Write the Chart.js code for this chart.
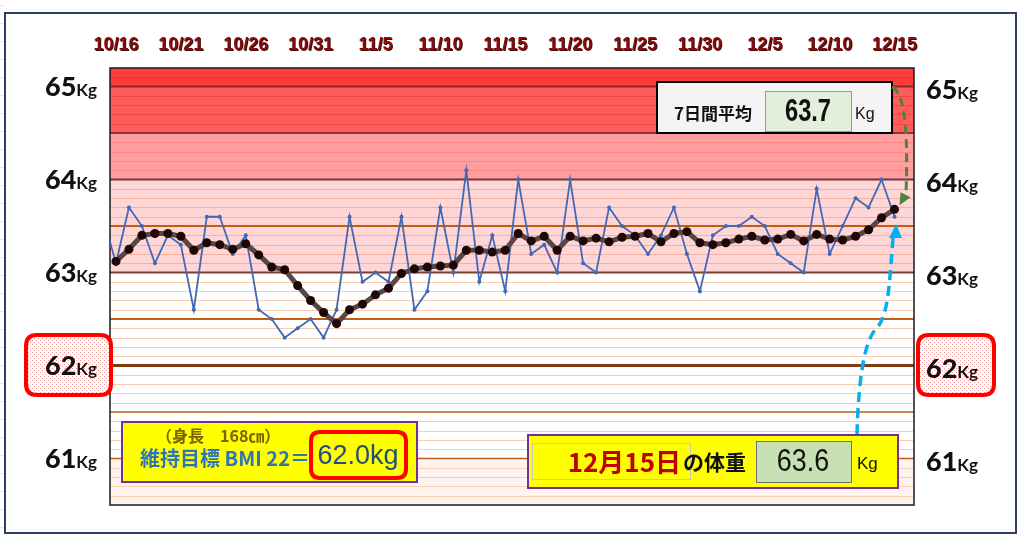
<!DOCTYPE html>
<html>
<head>
<meta charset="utf-8">
<script src="https://cdn.jsdelivr.net/npm/chart.js@4.4.1/dist/chart.umd.min.js"></script>
<style>
  html, body { margin: 0; padding: 0; background: #fff; }
  #wrap { width: 1024px; height: 541px; position: relative; }
</style>
</head>
<body>
<div id="wrap"><canvas id="myChart"></canvas></div>
<script>
// days shown (10/15 sits just outside the plot, only its line end shows)
var dayLabels = [
  "10/15", "10/16", "10/17", "10/18", "10/19", "10/20", "10/21", "10/22", "10/23", "10/24",
  "10/25", "10/26", "10/27", "10/28", "10/29", "10/30", "10/31", "11/1", "11/2", "11/3",
  "11/4", "11/5", "11/6", "11/7", "11/8", "11/9", "11/10", "11/11", "11/12", "11/13",
  "11/14", "11/15", "11/16", "11/17", "11/18", "11/19", "11/20", "11/21", "11/22", "11/23",
  "11/24", "11/25", "11/26", "11/27", "11/28", "11/29", "11/30", "12/1", "12/2", "12/3",
  "12/4", "12/5", "12/6", "12/7", "12/8", "12/9", "12/10", "12/11", "12/12", "12/13",
  "12/14", "12/15"
];

// daily weight (kg)
var weights = [
  63.6, 63.1, 63.7, 63.5, 63.1, 63.4, 63.3, 62.6, 63.6, 63.6,
  63.2, 63.4, 62.6, 62.5, 62.3, 62.4, 62.5, 62.3, 62.6, 63.6,
  62.9, 63.0, 62.9, 63.6, 62.6, 62.8, 63.7, 63.0, 64.1, 62.9,
  63.4, 62.8, 64.0, 63.2, 63.3, 63.0, 64.0, 63.1, 63.0, 63.7,
  63.5, 63.4, 63.2, 63.4, 63.7, 63.2, 62.8, 63.4, 63.5, 63.5,
  63.6, 63.5, 63.2, 63.1, 63.0, 63.9, 63.2, 63.5, 63.8, 63.7,
  64.0, 63.6
];

// 7 day average (kg)
var weeklyAvg = [
  null, 63.12, 63.25, 63.40, 63.42, 63.42, 63.39, 63.24, 63.32, 63.30,
  63.25, 63.31, 63.19, 63.06, 63.03, 62.86, 62.70, 62.57, 62.45, 62.60,
  62.66, 62.76, 62.83, 62.99, 63.04, 63.06, 63.07, 63.08, 63.24, 63.24,
  63.22, 63.24, 63.42, 63.34, 63.39, 63.24, 63.39, 63.34, 63.37, 63.33,
  63.38, 63.39, 63.42, 63.33, 63.42, 63.44, 63.32, 63.30, 63.32, 63.36,
  63.39, 63.35, 63.36, 63.41, 63.34, 63.41, 63.36, 63.35, 63.39, 63.46,
  63.59, 63.68
];

var tickLabels = ["10/16", "10/21", "10/26", "10/31", "11/5", "11/10", "11/15",
  "11/20", "11/25", "11/30", "12/5", "12/10", "12/15"];
var yLabels = [65, 64, 63, 62, 61];

var goalWeight = "62.0";
var heightCm = "168";
var bmiGoal = "22";
var latestDate = "12月15日";
var latestWeight = "63.6";
var latestAvg = "63.7";

var JP = '"Noto Sans CJK JP", sans-serif';

function rrect(ctx, x, y, w, h, r) {
  ctx.beginPath();
  ctx.moveTo(x + r, y);
  ctx.lineTo(x + w - r, y);
  ctx.quadraticCurveTo(x + w, y, x + w, y + r);
  ctx.lineTo(x + w, y + h - r);
  ctx.quadraticCurveTo(x + w, y + h, x + w - r, y + h);
  ctx.lineTo(x + r, y + h);
  ctx.quadraticCurveTo(x, y + h, x, y + h - r);
  ctx.lineTo(x, y + r);
  ctx.quadraticCurveTo(x, y, x + r, y);
  ctx.closePath();
}

// narrow digits like the sheet's condensed font
function narrowText(ctx, txt, cx, cy, font, sx) {
  ctx.save();
  ctx.translate(cx, cy);
  ctx.scale(sx, 1);
  ctx.font = font;
  ctx.textAlign = "center";
  ctx.textBaseline = "middle";
  ctx.fillText(txt, 0, 0);
  ctx.restore();
}

function dotPattern(ctx) {
  var c = document.createElement("canvas");
  c.width = 4;
  c.height = 4;
  var p = c.getContext("2d");
  p.fillStyle = "#fff";
  p.fillRect(0, 0, 4, 4);
  p.fillStyle = "#F49C9C";
  p.fillRect(0, 0, 1, 1);
  p.fillRect(2, 2, 1, 1);
  return ctx.createPattern(c, "repeat");
}

var backgroundPlugin = {
  id: "bands",
  beforeDatasetsDraw: function (chart) {
    var ctx = chart.ctx;
    var a = chart.chartArea;
    var ys = chart.scales.y;
    var w = a.right - a.left;
    ctx.save();

    var bands = [
      [60.5, 61, "#FFF3EF"],
      [63, 64, "#FFD6D6"],
      [64, 64.5, "#FF9E9E"],
      [64.5, 65, "#FF5C5C"],
      [65, 65.2, "#FF3B3B"]
    ];
    bands.forEach(function (b) {
      var top = ys.getPixelForValue(b[1]);
      var bot = ys.getPixelForValue(b[0]);
      ctx.fillStyle = b[2];
      ctx.fillRect(a.left, top, w, bot - top);
    });

    // thin lines every 0.1 kg
    for (var i = 606; i < 652; i++) {
      if (i % 5 === 0) continue;
      var v = i / 10;
      var py = Math.round(ys.getPixelForValue(v)) + 0.5;
      if (v > 65) ctx.strokeStyle = "#EE3030";
      else if (v > 64.5) ctx.strokeStyle = "#EE4848";
      else if (v > 64) ctx.strokeStyle = "#FF8484";
      else if (v > 63) ctx.strokeStyle = "#F6B0A2";
      else ctx.strokeStyle = "#F8CDB4";
      ctx.lineWidth = 1;
      ctx.beginPath();
      ctx.moveTo(a.left, py);
      ctx.lineTo(a.right, py);
      ctx.stroke();
    }

    var majors = [
      [65, "#8B2B2B", 2],
      [64.5, "#8E3434", 2],
      [64, "#6E3B3B", 2],
      [63.5, "#C55A11", 2],
      [63, "#7A3F2E", 2],
      [62.5, "#C55A11", 2],
      [62, "#843C0C", 3],
      [61.5, "#C55A11", 1.5],
      [61, "#C55A11", 1.5]
    ];
    majors.forEach(function (m) {
      var py = ys.getPixelForValue(m[0]);
      ctx.strokeStyle = m[1];
      ctx.lineWidth = m[2];
      ctx.beginPath();
      ctx.moveTo(a.left, py);
      ctx.lineTo(a.right, py);
      ctx.stroke();
    });

    ctx.strokeStyle = "#1b1b1b";
    ctx.lineWidth = 1.5;
    ctx.strokeRect(a.left, a.top, w, a.bottom - a.top);
    ctx.restore();
  },
  afterDraw: function (chart) {
    var ctx = chart.ctx;
    var xs = chart.scales.x;
    var ys = chart.scales.y;
    ctx.save();

    // outer frame
    ctx.strokeStyle = "#2F3E6B";
    ctx.lineWidth = 2;
    ctx.strokeRect(5, 13, 1011, 520);

    // sheet grid stubs on the far left
    ctx.strokeStyle = "#E2E2E2";
    ctx.lineWidth = 1;
    for (var g = 5; g < 530; g += 18) {
      ctx.beginPath();
      ctx.moveTo(0, g + 0.5);
      ctx.lineTo(4, g + 0.5);
      ctx.stroke();
    }

    // date labels on top
    ctx.font = "bold 18px 'Liberation Sans', Arial, sans-serif";
    ctx.textAlign = "center";
    ctx.textBaseline = "middle";
    tickLabels.forEach(function (t) {
      var px = xs.getPixelForValue(dayLabels.indexOf(t) - 1);
      ctx.fillStyle = "#3a1010";
      ctx.fillText(t, px + 1, 46);
      ctx.fillStyle = "#8B0A0A";
      ctx.fillText(t, px, 45);
    });

    // 62kg highlight boxes
    var pat = dotPattern(ctx);
    [[26, 335, 85, 60], [918, 335, 76, 60]].forEach(function (b) {
      rrect(ctx, b[0], b[1], b[2], b[3], 11);
      ctx.fillStyle = pat;
      ctx.fill();
      ctx.strokeStyle = "#FF0000";
      ctx.lineWidth = 4;
      ctx.stroke();
    });

    // kg labels both sides
    ctx.textBaseline = "alphabetic";
    ctx.fillStyle = "#111";
    yLabels.forEach(function (v) {
      var py = ys.getPixelForValue(v);
      ctx.font = "bold 17px Lato, sans-serif";
      var kw = ctx.measureText("Kg").width;
      ctx.textAlign = "left";
      ctx.fillText("Kg", 97 - kw, py + 9);
      ctx.font = "900 27px Lato, sans-serif";
      ctx.textAlign = "right";
      ctx.fillText(String(v), 97 - kw, py + 9);

      ctx.textAlign = "left";
      var nw = ctx.measureText(String(v)).width;
      ctx.fillText(String(v), 926, py + 12);
      ctx.font = "bold 17px Lato, sans-serif";
      ctx.fillText("Kg", 926 + nw, py + 12);
    });

    // 7 day average box
    ctx.fillStyle = "#F4F4F4";
    ctx.fillRect(657, 82, 235, 51);
    ctx.strokeStyle = "#000";
    ctx.lineWidth = 2;
    ctx.strokeRect(657, 82, 235, 51);
    ctx.fillStyle = "#E2EFDA";
    ctx.fillRect(765, 91, 86, 40);
    ctx.strokeStyle = "#9A9A9A";
    ctx.lineWidth = 1;
    ctx.strokeRect(765.5, 91.5, 86, 40);
    ctx.fillStyle = "#111";
    ctx.textBaseline = "middle";
    ctx.textAlign = "left";
    ctx.font = "bold 17px " + JP;
    ctx.fillText("7日間平均", 674, 114);
    narrowText(ctx, latestAvg, 808, 112, "bold 32px 'Liberation Sans', sans-serif", 0.74);
    ctx.textAlign = "left";
    ctx.textBaseline = "middle";
    ctx.font = "16px 'Liberation Sans', sans-serif";
    ctx.fillText("Kg", 855, 115);

    // BMI goal box
    ctx.fillStyle = "#FFFF00";
    ctx.fillRect(122, 422, 295, 60);
    ctx.strokeStyle = "#7030A0";
    ctx.lineWidth = 2;
    ctx.strokeRect(122, 422, 295, 60);
    ctx.fillStyle = "#7F6000";
    ctx.font = "bold 16px " + JP;
    ctx.textAlign = "left";
    ctx.fillText("（身長　" + heightCm + "㎝）", 156, 436);
    ctx.fillStyle = "#2E75B6";
    ctx.font = "bold 20px " + JP;
    ctx.fillText("維持目標 BMI " + bmiGoal + "＝", 140, 458);
    rrect(ctx, 311, 432, 95, 46, 9);
    ctx.strokeStyle = "#FF0000";
    ctx.lineWidth = 4;
    ctx.stroke();
    ctx.fillStyle = "#1F4E79";
    ctx.font = "27px 'Liberation Sans', Arial, sans-serif";
    ctx.textAlign = "center";
    ctx.fillText(goalWeight + "kg", 358, 457);

    // latest weight box
    ctx.fillStyle = "#FFFF00";
    ctx.fillRect(528, 435, 370, 53);
    ctx.strokeStyle = "#7030A0";
    ctx.lineWidth = 2;
    ctx.strokeRect(528, 435, 370, 53);
    ctx.strokeStyle = "#C8C8B0";
    ctx.lineWidth = 1;
    ctx.strokeRect(532.5, 443.5, 158, 36);
    ctx.fillStyle = "#C6E0B4";
    ctx.fillRect(756, 441, 95, 41);
    ctx.strokeStyle = "#6F6F6F";
    ctx.strokeRect(756.5, 441.5, 95, 41);
    ctx.fillStyle = "#C00000";
    ctx.font = "bold 26px " + JP;
    ctx.textAlign = "right";
    ctx.fillText(latestDate, 681, 462);
    ctx.fillStyle = "#111";
    ctx.font = "bold 21px " + JP;
    ctx.textAlign = "left";
    ctx.fillText("の体重", 683, 462);
    narrowText(ctx, latestWeight, 803, 462, "32px 'Liberation Sans', sans-serif", 0.84);
    ctx.textAlign = "left";
    ctx.textBaseline = "middle";
    ctx.font = "17px 'Liberation Sans', sans-serif";
    ctx.fillText("Kg", 857, 464);

    // arrows
    var lastX = xs.getPixelForValue(60);
    var lastY = ys.getPixelForValue(weeklyAvg[weeklyAvg.length - 1]);
    ctx.setLineDash([9, 5]);
    ctx.strokeStyle = "#548235";
    ctx.lineWidth = 3;
    ctx.beginPath();
    ctx.moveTo(892, 87);
    ctx.bezierCurveTo(906, 92, 908, 140, 906, 194);
    ctx.stroke();
    ctx.setLineDash([]);
    ctx.fillStyle = "#548235";
    ctx.beginPath();
    ctx.moveTo(lastX + 5, lastY - 4);
    ctx.lineTo(lastX + 6, lastY - 17);
    ctx.lineTo(lastX + 16, lastY - 12);
    ctx.closePath();
    ctx.fill();

    ctx.setLineDash([10, 6]);
    ctx.strokeStyle = "#00B0F0";
    ctx.lineWidth = 3.5;
    ctx.beginPath();
    ctx.moveTo(857, 434);
    ctx.bezierCurveTo(858, 395, 862, 345, 875, 330);
    ctx.bezierCurveTo(888, 318, 889, 290, 893, 238);
    ctx.stroke();
    ctx.setLineDash([]);
    ctx.fillStyle = "#00B0F0";
    ctx.beginPath();
    ctx.moveTo(896, 224);
    ctx.lineTo(889, 238);
    ctx.lineTo(902, 238);
    ctx.closePath();
    ctx.fill();

    ctx.restore();
  }
};

var weightPoints = weights.map(function (v, i) {
  return { x: i - 1, y: v };
});
var avgPoints = [];
weeklyAvg.forEach(function (v, i) {
  if (v !== null) avgPoints.push({ x: i - 1, y: v });
});

var ctx = document.getElementById("myChart").getContext("2d");
var myChart = new Chart(ctx, {
  type: "line",
  data: {
    datasets: [
      {
        label: "7日間平均",
        data: avgPoints,
        borderColor: "#574646",
        borderWidth: 5,
        pointRadius: 4.5,
        pointBackgroundColor: "#1E0707",
        pointBorderWidth: 0,
        tension: 0,
        order: 1,
      },
      {
        label: "体重",
        data: weightPoints,
        borderColor: "#4169B8",
        borderWidth: 1.8,
        pointRadius: 2,
        pointBackgroundColor: "#4169B8",
        pointBorderWidth: 0,
        tension: 0,
        order: 2,
      },
    ],
  },
  options: {
    animation: false,
    responsive: true,
    maintainAspectRatio: false,
    layout: {
      padding: { left: 110, right: 110, top: 68, bottom: 36 },
    },
    plugins: {
      legend: { display: false },
      tooltip: { enabled: false },
    },
    scales: {
      x: { type: "linear", display: false, min: -0.46, max: 61.5 },
      y: { display: false, min: 60.5, max: 65.2 },
    },
  },
  plugins: [backgroundPlugin],
});
</script>
</body>
</html>
